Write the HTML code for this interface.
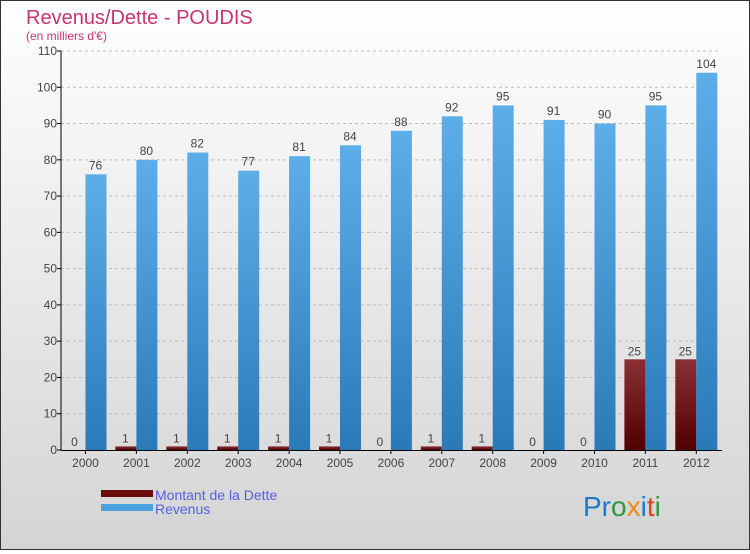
<!DOCTYPE html>
<html><head><meta charset="utf-8"><style>
body{margin:0;}
#c{width:748px;height:548px;border:1px solid #333;background:linear-gradient(#ffffff,#d4d4d4);position:relative;font-family:"Liberation Sans",sans-serif;}
</style></head><body>
<div id="c">
<svg id="s" width="748" height="548">
<defs>
<linearGradient id="gr" x1="0" y1="0" x2="0" y2="1"><stop offset="0" stop-color="#5daee8"/><stop offset="1" stop-color="#2a7ab8"/></linearGradient>
<linearGradient id="gd" x1="0" y1="0" x2="0" y2="1"><stop offset="0" stop-color="#8a3034"/><stop offset="1" stop-color="#520000"/></linearGradient>
</defs>
<text x="25" y="23" font-size="20" fill="#c8356a">Revenus/Dette - POUDIS</text>
<text x="25" y="39" font-size="12" fill="#c8356a">(en milliers d'€)</text>
<g id="g"></g>
<rect x="100" y="489" width="52" height="7" fill="#6a0a0a"/>
<text x="154" y="499" font-size="14" fill="#5560e0">Montant de la Dette</text>
<rect x="100" y="503" width="52" height="7" fill="#4aa0e0"/>
<text x="154" y="513" font-size="14" fill="#5560e0">Revenus</text>
<text x="582" y="515" font-size="28"><tspan fill="#1a7ad0">Pr</tspan><tspan fill="#2a9a3a">o</tspan><tspan fill="#f08a10">x</tspan><tspan fill="#1a7ad0">i</tspan><tspan fill="#e04020">t</tspan><tspan fill="#2a9a3a">i</tspan></text>
</svg></div>
<script>
const years=["2000","2001","2002","2003","2004","2005","2006","2007","2008","2009","2010","2011","2012"];
const dette=[0,1,1,1,1,1,0,1,1,0,0,25,25];
const revenus=[76,80,82,77,81,84,88,92,95,91,90,95,104];
const ticks=[0,10,20,30,40,50,60,70,80,90,100,110];
const NS="http://www.w3.org/2000/svg";
const g=document.getElementById('g');
const y=v=>449-v*(399/110);
const xc=i=>84.5+i*50.9;
function mk(t,a){const e=document.createElementNS(NS,t);for(const k in a)e.setAttribute(k,a[k]);g.appendChild(e);return e;}
ticks.forEach(t=>{
 if(t>0){const l=mk('line',{x1:60,x2:720,y1:y(t),y2:y(t),stroke:'#bbb','stroke-dasharray':'3,3'});
 
 }
 const k=mk('line',{x1:56,x2:60,y1:y(t),y2:y(t),stroke:'#000'});
 
 
 const tx=mk('text',{x:56,y:y(t)+4,'font-size':12,fill:'#444','text-anchor':'end'});tx.textContent=t;
 
 
});
years.forEach((yr,i)=>{
 const c=xc(i);
 const d=mk('rect',{x:c-21,y:y(dette[i]),width:21,height:Math.max(449-y(dette[i]),1),fill:'url(#gd)'});
 
 
 const r=mk('rect',{x:c,y:y(revenus[i]),width:21,height:449-y(revenus[i]),fill:'url(#gr)'});
 
 
 const t1=mk('text',{x:c-11,y:y(dette[i])-4,'font-size':12,fill:'#444','text-anchor':'middle'});t1.textContent=dette[i];
 
 
 const t2=mk('text',{x:c+10,y:y(revenus[i])-5,'font-size':12,fill:'#444','text-anchor':'middle'});t2.textContent=revenus[i];
 
 
 const xt=mk('line',{x1:c,x2:c,y1:449,y2:453,stroke:'#000'});
 
 
 const xl=mk('text',{x:c,y:466,'font-size':12,fill:'#444','text-anchor':'middle'});xl.textContent=yr;
 
 
});
const ax=mk('line',{x1:60,x2:60,y1:y(110),y2:449,stroke:'#000'});


const bx=mk('line',{x1:60,x2:721,y1:449.5,y2:449.5,stroke:'#000'});


</script>
</body></html>
